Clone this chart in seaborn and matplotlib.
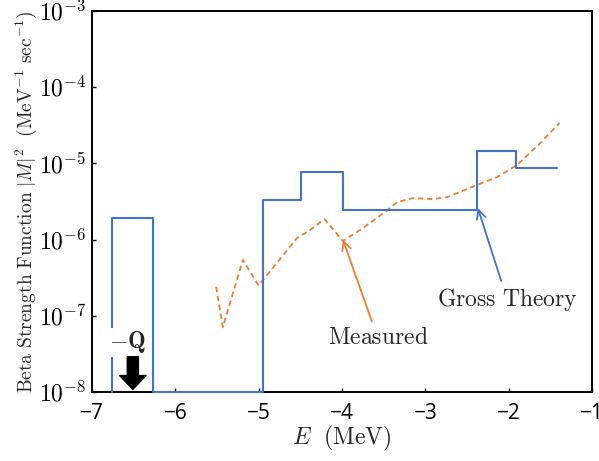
import numpy as np
import matplotlib
matplotlib.use("Agg")
import matplotlib.pyplot as plt
from matplotlib.ticker import FuncFormatter, FixedLocator, NullLocator
import seaborn as sns
import pandas as pd

# Gross theory step function (edges in MeV, strength held until next edge)
gross_E = [-6.76, -6.76, -6.27, -4.95, -4.49, -3.99, -2.38, -1.91, -1.42]
gross_S = [1e-8, 1.92e-6, 1e-8, 3.3e-6, 7.7e-6, 2.45e-6, 1.46e-5, 8.7e-6, 8.7e-6]

# Measured strength
meas_E = [-5.51, -5.43, -5.19, -5.00, -4.54, -4.38, -4.21, -3.99, -3.78, -3.45,
          -3.34, -3.15, -2.91, -2.74, -2.38, -2.14, -1.90, -1.62, -1.39]
meas_S = [2.4e-7, 7.1e-8, 5.4e-7, 2.5e-7, 1.05e-6, 1.34e-6, 1.86e-6, 9.6e-7, 1.34e-6, 2.45e-6,
          3.1e-6, 3.5e-6, 3.4e-6, 3.6e-6, 5.2e-6, 6.6e-6, 9.5e-6, 1.85e-5, 3.4e-5]

x_ticks = [-7, -6, -5, -4, -3, -2, -1]
y_ticks = [1e-8, 1e-7, 1e-6, 1e-5, 1e-4, 1e-3]

blue = '#4472C4'
orange = '#ED7D31'

sns.set_style("ticks")
plt.rcParams['font.family'] = ['Open Sans', 'DejaVu Sans']
plt.rcParams['mathtext.fontset'] = 'cm'

df_gross = pd.DataFrame({'E': gross_E, 'S': gross_S})
df_meas = pd.DataFrame({'E': meas_E, 'S': meas_S})

fig = plt.figure(figsize=(5.99, 4.61), dpi=100)
ax = fig.add_axes([0.1536, 0.1497, 0.8347, 0.8265])

sns.lineplot(data=df_gross, x='E', y='S', estimator=None, sort=False, drawstyle='steps-post',
             color=blue, linewidth=1.5, clip_on=False, zorder=3, ax=ax)
sns.lineplot(data=df_meas, x='E', y='S', estimator=None, sort=False,
             color=orange, linewidth=1.3, linestyle=(0, (3, 2)), zorder=2, ax=ax)

ax.set_yscale('log')
ax.set_xlim(-7, -1)
ax.set_ylim(1e-8, 1e-3)
ax.xaxis.set_major_locator(FixedLocator(x_ticks))
ax.yaxis.set_major_locator(FixedLocator(y_ticks))
ax.yaxis.set_minor_locator(NullLocator())
ax.xaxis.set_major_formatter(FuncFormatter(lambda v, p: '\u2212%d' % abs(v)))
ax.yaxis.set_major_formatter(FuncFormatter(lambda v, p: r'$10^{%d}$' % round(np.log10(v))))
ax.tick_params(axis='both', direction='in', length=3, width=1, colors='black')
ax.tick_params(axis='x', labelsize=15, pad=8)
ax.tick_params(axis='y', labelsize=17, pad=4)
for sp in ax.spines.values():
    sp.set_visible(True)
    sp.set_linewidth(1.4)
    sp.set_color('black')

ax.set_xlabel(r'$E\ \ (\mathrm{MeV})$', fontsize=17, labelpad=0)
ax.set_ylabel(r'$\mathrm{Beta\ Strength\ Function}\ |M|^2\ \ (\mathrm{MeV}^{-1}\ \mathrm{sec}^{-1})$',
              fontsize=14, labelpad=0)

# annotations
ax.annotate(r'$\mathrm{Gross\ Theory}$', xy=(-2.37, 2.6e-6), xytext=(-2.02, 1.66e-7),
            fontsize=17, ha='center', va='center',
            arrowprops=dict(arrowstyle='->', color=blue, lw=1.3, shrinkA=1, shrinkB=0,
                            mutation_scale=16))
ax.annotate(r'$\mathrm{Measured}$', xy=(-3.99, 1.0e-6), xytext=(-3.57, 5.1e-8),
            fontsize=17, ha='center', va='center',
            arrowprops=dict(arrowstyle='->', color=orange, lw=1.3, shrinkA=1, shrinkB=0,
                            mutation_scale=16))
ax.text(-6.57, 4.5e-8, r'$-\mathbf{Q}$', fontsize=17, ha='center', va='center', zorder=4,
        bbox=dict(facecolor='white', edgecolor='none', pad=1))
ax.annotate('', xy=(-6.51, 1.08e-8), xytext=(-6.51, 2.9e-8),
            arrowprops=dict(facecolor='black', edgecolor='black', width=8, headwidth=19,
                            headlength=10, shrink=0), zorder=4)

fig.savefig('out.png', dpi=100)
